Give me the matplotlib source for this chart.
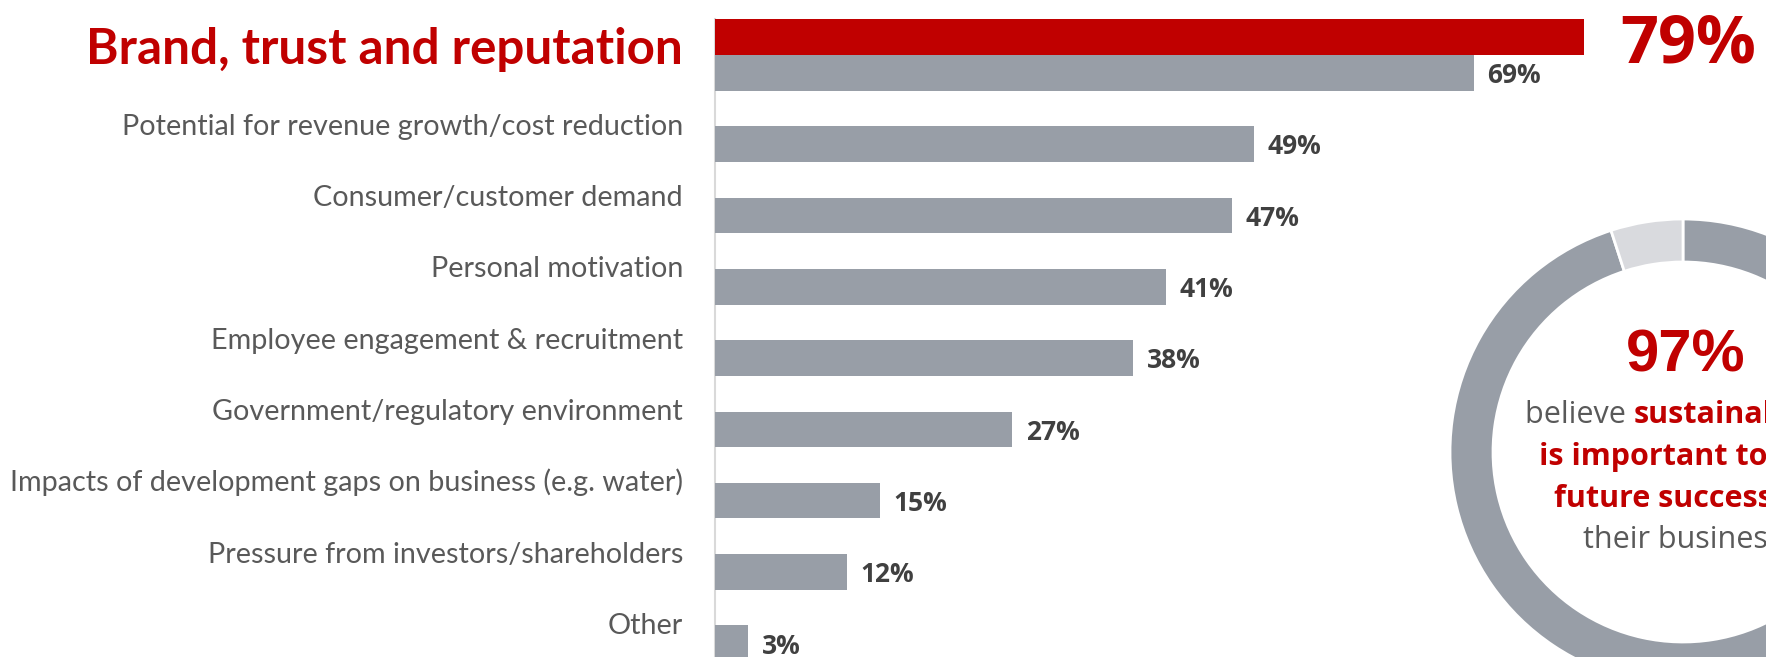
import matplotlib.pyplot as plt
import numpy as np

# data
categories = [
    "Brand, trust and reputation",
    "Potential for revenue growth/cost reduction",
    "Consumer/customer demand",
    "Personal motivation",
    "Employee engagement & recruitment",
    "Government/regulatory environment",
    "Impacts of development gaps on business (e.g. water)",
    "Pressure from investors/shareholders",
    "Other",
]
highlight = [79]          # red bar, first category only
values = [69, 49, 47, 41, 38, 27, 15, 12, 3]
donut_values = [95, 5]
donut_headline = "97%"

RED = "#C00000"
GREY = "#989EA7"
LIGHT = "#D9DADE"
TXT = "#595959"
DARK = "#404040"

W, H = 1766, 657
fig = plt.figure(figsize=(W / 100, H / 100), dpi=100)


def px_axes(x0, y0, x1, y1):
    # box given in pixels, origin top-left
    return fig.add_axes([x0 / W, 1 - y1 / H, (x1 - x0) / W, (y1 - y0) / H])


def px(x, y):
    return x / W, 1 - y / H


# ---- bar chart ----
x0 = 714.7
ax = px_axes(x0, 19, W, H)
ax.patch.set_alpha(0)
n = len(categories)
y = np.arange(n)
slot = 0.5
ax.barh(y + slot / 2, values, height=slot, color=GREY, zorder=2)
ax.barh(y[:1] - slot / 2, highlight, height=slot, color=RED, zorder=2)
ax.set_xlim(0, (W - x0) / 11)
ax.set_ylim((H - 55) / 71.3, (19 - 55) / 71.3)
for s in ["top", "right", "bottom"]:
    ax.spines[s].set_visible(False)
ax.spines["left"].set_color("#D9D9D9")
ax.spines["left"].set_linewidth(1.5)
ax.spines["left"].set_zorder(1)
ax.set_xticks([])
ax.set_yticks([])

labels = []
for i, lab in enumerate(categories):
    first = i == 0
    t = ax.annotate(lab, xy=(0, i), xycoords=ax.get_yaxis_transform(),
                    xytext=(-(x0 - 683) * 0.72, -8.5 * 0.72), textcoords="offset points",
                    ha="right", va="baseline", family="Lato",
                    fontsize=30 if first else 19,
                    fontweight="bold" if first else "normal",
                    color=RED if first else TXT)
    labels.append(t)

for i, v in enumerate(values):
    ax.annotate(f"{v}%", xy=(v, i + slot / 2), xytext=(10, -7.4), textcoords="offset points",
                ha="left", va="baseline", family="Open Sans", fontweight="bold",
                fontsize=19, color=DARK)

big = ax.annotate(f"{highlight[0]}%", xy=(highlight[0], -slot / 2), xytext=(26, -17.9),
                  textcoords="offset points", ha="left", va="baseline",
                  family="Open Sans", fontweight="bold", fontsize=48, color=RED,
                  annotation_clip=False)

# ---- donut ----
cx, cy, R = 1683, 452, 233
dax = px_axes(cx - R, cy - R, cx + R, cy + R)
dax.pie(donut_values, colors=[GREY, LIGHT], startangle=90, counterclock=False, radius=1,
        wedgeprops=dict(width=43 / R, edgecolor="white", linewidth=2))
dax.set_xlim(-1, 1)
dax.set_ylim(-1, 1)
dax.axis("off")

head = fig.text(*px(1685.5, 372), donut_headline, ha="center", va="baseline",
                family="Liberation Sans", fontweight="bold", fontsize=43, color=RED)

fs = 22
l1a = fig.text(*px(0, 423), "believe ", ha="left", va="baseline", family="Open Sans",
               fontsize=fs, color=TXT)
l1b = fig.text(*px(0, 423), "sustainability", ha="left", va="baseline", family="Open Sans",
               fontweight="bold", fontsize=fs, color=RED)
fig.text(*px(cx, 465), "is important to the", ha="center", va="baseline", family="Open Sans",
         fontweight="bold", fontsize=fs, color=RED)
fig.text(*px(cx, 507), "future success of", ha="center", va="baseline", family="Open Sans",
         fontweight="bold", fontsize=fs, color=RED)
fig.text(*px(cx, 548), "their business", ha="center", va="baseline", family="Open Sans",
         fontsize=fs, color=TXT)

# fit label sizes to the reference widths
fig.canvas.draw()
r = fig.canvas.get_renderer()
k = 672 / labels[6].get_window_extent(r).width
for t in labels[1:]:
    t.set_fontsize(t.get_fontsize() * k)
labels[0].set_fontsize(labels[0].get_fontsize() * 595 / labels[0].get_window_extent(r).width)

wa = l1a.get_window_extent(r).width
wb = l1b.get_window_extent(r).width
start = cx - (wa + wb) / 2
l1a.set_x(start / W)
l1b.set_x((start + wa) / W)

fig.savefig("out.png", dpi=100)
